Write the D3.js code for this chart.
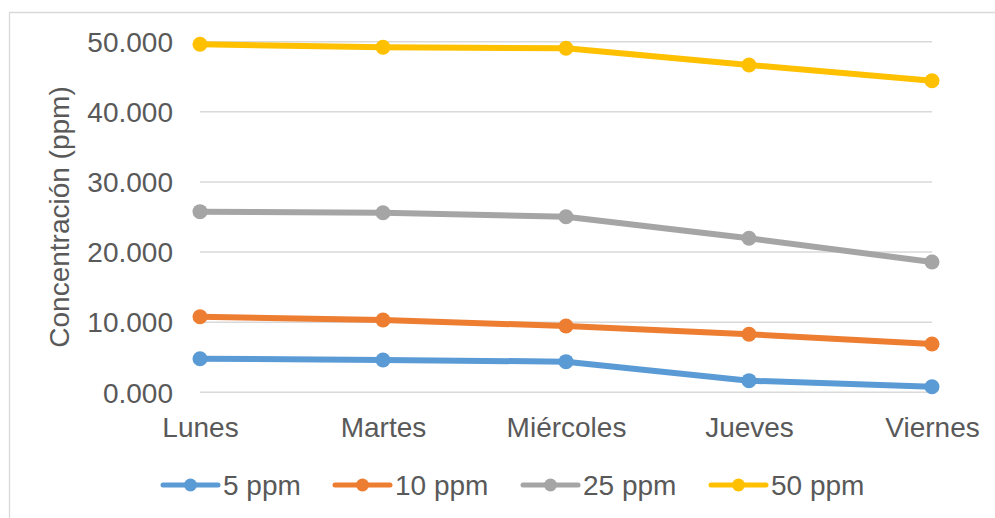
<!DOCTYPE html>
<html>
<head>
<meta charset="utf-8">
<script src="https://cdn.jsdelivr.net/npm/d3@7/dist/d3.min.js"></script>
<style>
  html, body { margin: 0; padding: 0; background: #fff; }
  svg { display: block; font-family: "Liberation Sans", Arial, sans-serif; }
</style>
</head>
<body>
<svg id="chart" width="995" height="518"></svg>
<script>
// Días de muestreo
const dias = ["Lunes", "Martes", "Miércoles", "Jueves", "Viernes"];

// Concentración medida (ppm) por solución inicial
const serie5  = [4.79, 4.61, 4.37, 1.66, 0.80];
const serie10 = [10.78, 10.31, 9.46, 8.27, 6.89];
const serie25 = [25.76, 25.61, 25.04, 21.96, 18.58];
const serie50 = [49.63, 49.20, 49.06, 46.68, 44.44];

const nombresSeries = ["5 ppm", "10 ppm", "25 ppm", "50 ppm"];
const coloresSeries = ["#5B9BD5", "#ED7D31", "#A5A5A5", "#FFC000"];

// Marcas del eje vertical
const ticksY = [0, 10, 20, 30, 40, 50];

const series = [serie5, serie10, serie25, serie50].map((v, i) => ({
  nombre: nombresSeries[i],
  color: coloresSeries[i],
  valores: v
}));

const svg = d3.select("#chart");
const textColor = "#595959";
const gridColor = "#D9D9D9";

const x = d3.scalePoint().domain(dias).range([200, 932]).padding(0);
const y = d3.scaleLinear().domain([0, 50]).range([392.3, 41.7]);
const fmt = d3.format(".3f");

// Borde del área del gráfico
svg.append("path")
  .attr("d", "M9.5,518 V12.5 H995")
  .attr("fill", "none")
  .attr("stroke", gridColor)
  .attr("stroke-width", 1.3);

// Líneas de cuadrícula horizontales
svg.append("g")
  .selectAll("line")
  .data(ticksY)
  .join("line")
  .attr("x1", x(dias[0]))
  .attr("x2", x(dias[dias.length - 1]))
  .attr("y1", d => y(d))
  .attr("y2", d => y(d))
  .attr("stroke", gridColor)
  .attr("stroke-width", 1.5);

// Eje Y: etiquetas
const yAxis = d3.axisLeft(y).tickValues(ticksY).tickFormat(fmt).tickSize(0).tickPadding(0);
const gy = svg.append("g").attr("transform", "translate(173,0)").call(yAxis);
gy.select(".domain").remove();
gy.selectAll("text")
  .attr("fill", textColor)
  .attr("font-size", 28)
  .attr("font-family", "Liberation Sans, Arial, sans-serif")
  .attr("dy", "0.35em");

// Eje X: etiquetas
const xAxis = d3.axisBottom(x).tickSize(0).tickPadding(0);
const gx = svg.append("g").attr("transform", "translate(0,437)").call(xAxis);
gx.select(".domain").remove();
gx.selectAll("text")
  .attr("fill", textColor)
  .attr("font-size", 28)
  .attr("font-family", "Liberation Sans, Arial, sans-serif")
  .attr("dy", 0)
  .attr("y", 0);

// Título del eje Y
svg.append("text")
  .attr("transform", `translate(69,${(y(0) + y(50)) / 2}) rotate(-90)`)
  .attr("text-anchor", "middle")
  .attr("fill", textColor)
  .attr("font-size", 28)
  .text("Concentración (ppm)");

// Líneas y marcadores
const linea = d3.line().x((d, i) => x(dias[i])).y(d => y(d));

const gs = svg.append("g")
  .selectAll("g")
  .data(series)
  .join("g");

gs.append("path")
  .attr("d", d => linea(d.valores))
  .attr("fill", "none")
  .attr("stroke", d => d.color)
  .attr("stroke-width", 6)
  .attr("stroke-linejoin", "round")
  .attr("stroke-linecap", "round");

gs.selectAll("circle")
  .data(d => d.valores.map((v, i) => ({ v, i, color: d.color })))
  .join("circle")
  .attr("cx", d => x(dias[d.i]))
  .attr("cy", d => y(d.v))
  .attr("r", 7.5)
  .attr("fill", d => d.color);

// Leyenda
const legendX = [163, 335, 523, 711];
const legendY = 485;
const lg = svg.append("g")
  .selectAll("g")
  .data(series)
  .join("g")
  .attr("transform", (d, i) => `translate(${legendX[i]},${legendY})`);

lg.append("line")
  .attr("x1", 0).attr("x2", 55)
  .attr("y1", 0).attr("y2", 0)
  .attr("stroke", d => d.color)
  .attr("stroke-width", 5)
  .attr("stroke-linecap", "round");

lg.append("circle")
  .attr("cx", 27.5).attr("cy", 0).attr("r", 6.5)
  .attr("fill", d => d.color);

lg.append("text")
  .attr("x", 60)
  .attr("y", 9.5)
  .attr("fill", textColor)
  .attr("font-size", 28)
  .text(d => d.nombre);
</script>
</body>
</html>
